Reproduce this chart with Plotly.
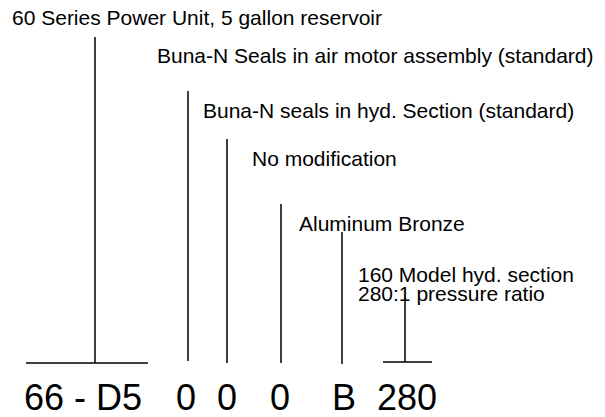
import plotly.graph_objects as go

# ---- data ----
code_parts = ["66 - D5", "0", "0", "0", "B", "280"]
code_x = [83, 186, 227, 280, 344, 407]
code_y = 397

labels = [
    "60 Series Power Unit, 5 gallon reservoir",
    "Buna-N Seals in air motor assembly (standard)",
    "Buna-N seals in hyd. Section (standard)",
    "No modification",
    "Aluminum Bronze",
    "160 Model hyd. section",
    "280:1 pressure ratio",
]
label_x = [12, 157, 203, 252, 299, 358, 358]
label_y = [17, 55, 110, 158, 223, 274, 293]

# leader lines
lead_x = [95, 188, 227, 281, 342, 405]
lead_top = [37, 91, 139, 204, 232, 298]
lead_bottom = [363, 361, 363, 363, 364, 362]

# underline bars
bar_x0 = [26, 383]
bar_x1 = [148, 432]
bar_y = [363, 362]

W, H = 605, 417
FONT = "Arial, Liberation Sans, sans-serif"

fig = go.Figure()

xs, ys = [], []
for x, t, b in zip(lead_x, lead_top, lead_bottom):
    xs += [x, x, None]
    ys += [t, b, None]
for x0, x1, y in zip(bar_x0, bar_x1, bar_y):
    xs += [x0, x1, None]
    ys += [y, y, None]
fig.add_trace(go.Scatter(x=xs, y=ys, mode="lines",
                         line=dict(color="black", width=1.5),
                         hoverinfo="skip", showlegend=False))

for t, x, y in zip(labels, label_x, label_y):
    fig.add_annotation(x=x - 2, y=y, text=t, showarrow=False,
                       xanchor="left", yanchor="middle",
                       font=dict(family=FONT, size=21, color="black"))

for t, x in zip(code_parts, code_x):
    fig.add_annotation(x=x, y=code_y, text=t, showarrow=False,
                       xanchor="center", yanchor="middle",
                       font=dict(family=FONT, size=36, color="black"))

fig.update_layout(
    width=W, height=H,
    margin=dict(l=0, r=0, t=0, b=0),
    paper_bgcolor="white", plot_bgcolor="white",
    xaxis=dict(range=[0, W], visible=False, fixedrange=True),
    yaxis=dict(range=[H, 0], visible=False, fixedrange=True),
)

fig.write_html("out.html",
               config={"displayModeBar": False, "staticPlot": True},
               post_script="document.body.style.margin='0';document.body.style.overflow='hidden';")
